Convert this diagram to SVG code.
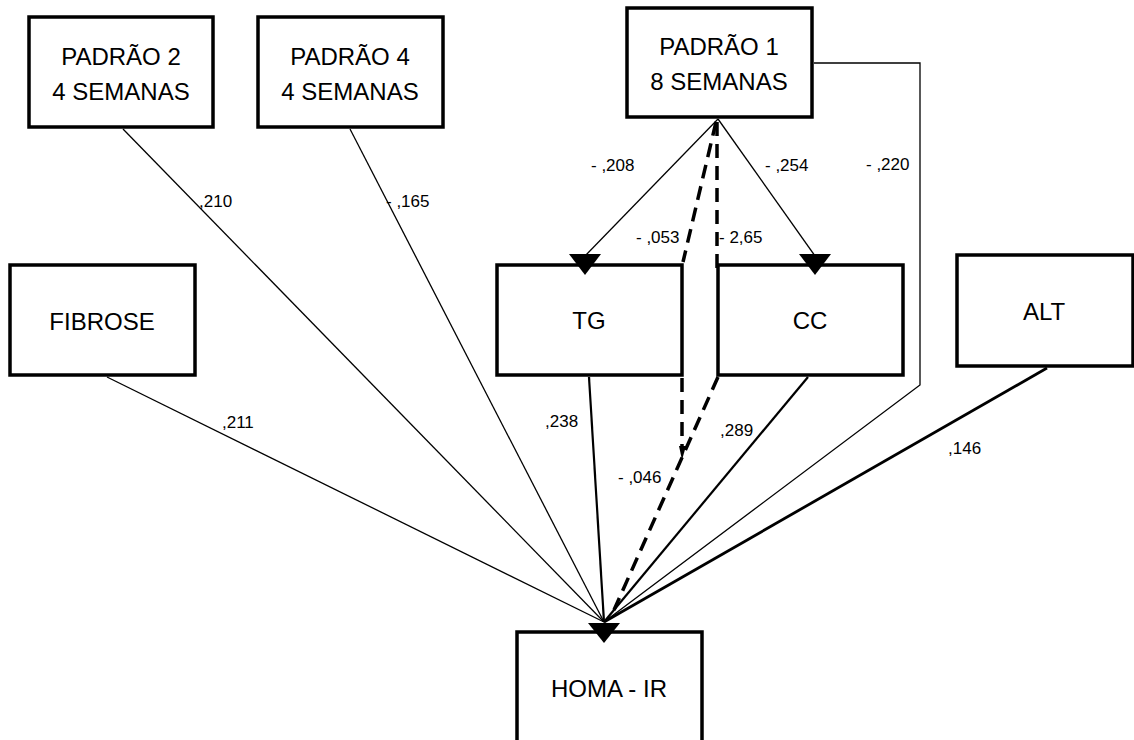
<svg xmlns="http://www.w3.org/2000/svg" width="1134" height="740" viewBox="0 0 1134 740">
<style>
.box{fill:#fff;stroke:#000;stroke-width:3.5}
.nt{font-family:"Liberation Sans",Arial,sans-serif;font-size:24px;fill:#000;text-anchor:middle}
.lb{font-family:"Liberation Sans",Arial,sans-serif;font-size:17px;fill:#000}
.thin{stroke:#000;stroke-width:1.3;fill:none}
.med{stroke:#000;stroke-width:2.2;fill:none}
.thick{stroke:#000;stroke-width:2.8;fill:none}
.dash{stroke:#000;stroke-width:3.5;fill:none;stroke-dasharray:14 8}
.head{fill:#000}
</style>
<rect width="1134" height="740" fill="#fff"/>
<g id="padrao2"><rect class="box" x="29" y="17" width="184" height="110"/><text class="nt" x="121" y="65">PADRÃO 2</text><text class="nt" x="121" y="100">4 SEMANAS</text></g>
<g id="padrao4"><rect class="box" x="258" y="17" width="185" height="110"/><text class="nt" x="350" y="65">PADRÃO 4</text><text class="nt" x="350" y="100">4 SEMANAS</text></g>
<g id="padrao1"><rect class="box" x="627" y="8" width="185" height="109"/><text class="nt" x="719" y="55">PADRÃO 1</text><text class="nt" x="719" y="90">8 SEMANAS</text></g>
<g id="fibrose"><rect class="box" x="10" y="265" width="185" height="110"/><text class="nt" x="102" y="330">FIBROSE</text></g>
<g id="tg"><rect class="box" x="497" y="265" width="185" height="110"/><text class="nt" x="589" y="329">TG</text></g>
<g id="cc"><rect class="box" x="718" y="265" width="185" height="110"/><text class="nt" x="810" y="329">CC</text></g>
<g id="alt"><rect class="box" x="957" y="255" width="176" height="111"/><text class="nt" x="1044" y="320">ALT</text></g>
<g id="homa"><rect class="box" x="517" y="632" width="185" height="120"/><text class="nt" x="609" y="697">HOMA - IR</text></g>
<g id="connectors">
<line class="thin" x1="123" y1="129" x2="604" y2="622"/>
<line class="thin" x1="350" y1="129" x2="604" y2="622"/>
<line class="thin" x1="107" y1="377" x2="604" y2="622"/>
<line class="med" x1="589" y1="377" x2="604" y2="622"/>
<line class="med" x1="808" y1="377" x2="604" y2="622"/>
<polyline class="thin" points="814,63 920,63 920,385 604,622"/>
<line class="thick" x1="1047" y1="368" x2="604" y2="622"/>
<line class="thin" x1="718" y1="119" x2="585" y2="256"/>
<line class="thin" x1="718" y1="119" x2="815" y2="256"/>
<line class="dash" x1="717" y1="122" x2="717" y2="274"/>
<line class="dash" x1="716" y1="122" x2="683" y2="262"/>
<line class="dash" x1="682" y1="378" x2="682" y2="448"/>
<polygon class="head" points="679,446 686,446 682,460"/>
<line class="dash" x1="718" y1="377" x2="614" y2="610"/>
<polygon class="head" points="569,254 601,254 585,275"/>
<polygon class="head" points="799,254 831,254 815,275"/>
<polygon class="head" points="588,623 620,623 604,643"/>
</g>
<g id="labels">
<text class="lb" x="199" y="207">,210</text>
<text class="lb" x="386" y="207">- ,165</text>
<text class="lb" x="591" y="171">- ,208</text>
<text class="lb" x="765" y="171">- ,254</text>
<text class="lb" x="866" y="170">- ,220</text>
<text class="lb" x="636" y="243">- ,053</text>
<text class="lb" x="719" y="243">- 2,65</text>
<text class="lb" x="222" y="428">,211</text>
<text class="lb" x="545" y="427">,238</text>
<text class="lb" x="720" y="436">,289</text>
<text class="lb" x="618" y="483">- ,046</text>
<text class="lb" x="948" y="454">,146</text>
</g>
</svg>
